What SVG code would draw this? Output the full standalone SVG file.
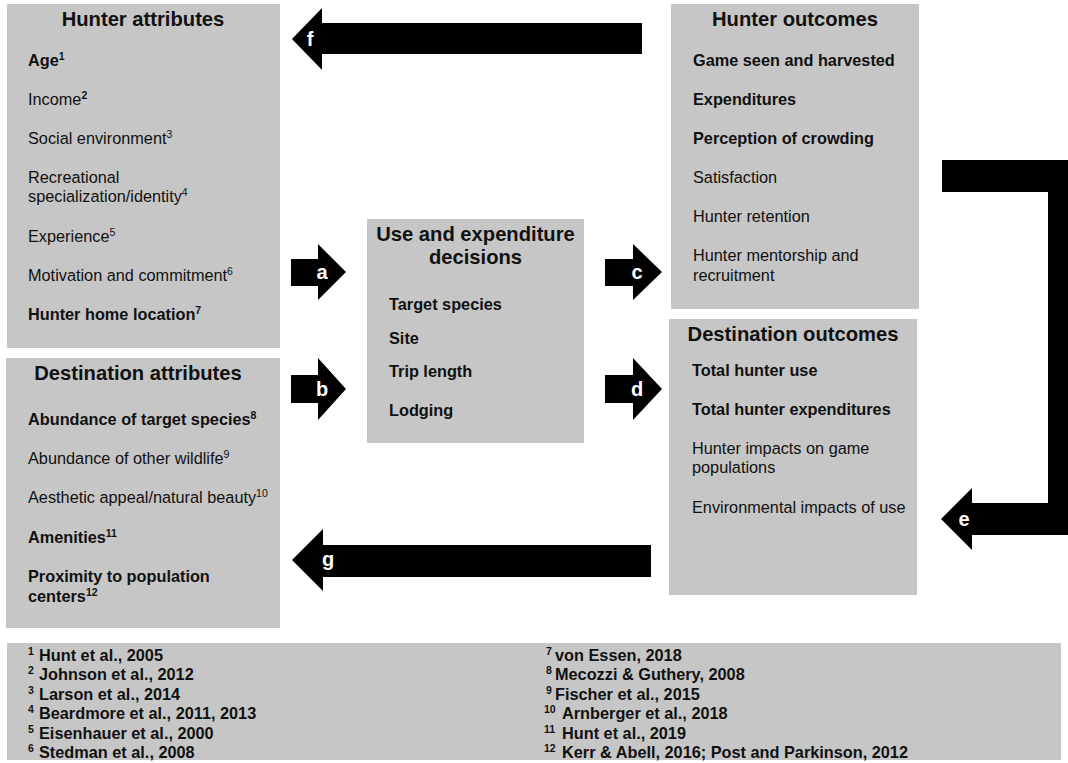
<svg xmlns="http://www.w3.org/2000/svg" width="1068" height="763" viewBox="0 0 1068 763">
<style>
.box{fill:#c6c6c6;}
text{font-family:"Liberation Sans",Arial,sans-serif;fill:#111;}
.h{font-size:20.2px;font-weight:bold;text-anchor:middle;}
.i{font-size:16.3px;}
.b{font-size:16.3px;font-weight:bold;}
.s{font-size:10.5px;}
.fn{font-size:16.3px;font-weight:bold;}
.arr{fill:#000;}
.lab{font-size:20px;font-weight:bold;fill:#fff;text-anchor:middle;}
</style>
<rect width="1068" height="763" fill="#fff"/>

<g id="hunter-attributes">
<rect class="box" x="7" y="4" width="273" height="344"/>
<text class="h" x="143" y="26">Hunter attributes</text>
<text class="b" x="28" y="66">Age<tspan class="s" dy="-6">1</tspan></text>
<text class="i" x="28" y="105">Income<tspan class="s" dy="-6" font-weight="bold">2</tspan></text>
<text class="i" x="28" y="144">Social environment<tspan class="s" dy="-6">3</tspan></text>
<text class="i" x="28" y="183">Recreational</text>
<text class="i" x="28" y="202">specialization/identity<tspan class="s" dy="-6">4</tspan></text>
<text class="i" x="28" y="242">Experience<tspan class="s" dy="-6">5</tspan></text>
<text class="i" x="28" y="281">Motivation and commitment<tspan class="s" dy="-6">6</tspan></text>
<text class="b" x="28" y="320">Hunter home location<tspan class="s" dy="-6">7</tspan></text>
</g>

<g id="destination-attributes">
<rect class="box" x="6" y="358" width="274" height="270"/>
<text class="h" x="138" y="380">Destination attributes</text>
<text class="b" x="28" y="425">Abundance of target species<tspan class="s" dy="-6">8</tspan></text>
<text class="i" x="28" y="464">Abundance of other wildlife<tspan class="s" dy="-6">9</tspan></text>
<text class="i" x="28" y="503">Aesthetic appeal/natural beauty<tspan class="s" dy="-6">10</tspan></text>
<text class="b" x="28" y="543">Amenities<tspan class="s" dy="-6">11</tspan></text>
<text class="b" x="28" y="582">Proximity to population</text>
<text class="b" x="28" y="602">centers<tspan class="s" dy="-6">12</tspan></text>
</g>

<g id="use-expenditure-decisions">
<rect class="box" x="367" y="219" width="217" height="224"/>
<text class="h" x="475.5" y="241">Use and expenditure</text>
<text class="h" x="475.5" y="264">decisions</text>
<text class="b" x="389" y="310">Target species</text>
<text class="b" x="389" y="344">Site</text>
<text class="b" x="389" y="377">Trip length</text>
<text class="b" x="389" y="416">Lodging</text>
</g>

<g id="hunter-outcomes">
<rect class="box" x="671" y="4" width="248" height="305"/>
<text class="h" x="795" y="26">Hunter outcomes</text>
<text class="b" x="693" y="66">Game seen and harvested</text>
<text class="b" x="693" y="105">Expenditures</text>
<text class="b" x="693" y="144">Perception of crowding</text>
<text class="i" x="693" y="183">Satisfaction</text>
<text class="i" x="693" y="222">Hunter retention</text>
<text class="i" x="693" y="261">Hunter mentorship and</text>
<text class="i" x="693" y="281">recruitment</text>
</g>

<g id="destination-outcomes">
<rect class="box" x="669" y="319" width="248" height="276"/>
<text class="h" x="793" y="341">Destination outcomes</text>
<text class="b" x="692" y="376">Total hunter use</text>
<text class="b" x="692" y="415">Total hunter expenditures</text>
<text class="i" x="692" y="454">Hunter impacts on game</text>
<text class="i" x="692" y="473">populations</text>
<text class="i" x="692" y="513">Environmental impacts of use</text>
</g>

<g id="references">
<rect class="box" x="7" y="643" width="1054" height="117"/>
<text class="fn" x="28" y="661"><tspan class="s" dy="-6">1</tspan><tspan x="39" dy="6">Hunt et al., 2005</tspan></text>
<text class="fn" x="28" y="680"><tspan class="s" dy="-6">2</tspan><tspan x="39" dy="6">Johnson et al., 2012</tspan></text>
<text class="fn" x="28" y="700"><tspan class="s" dy="-6">3</tspan><tspan x="39" dy="6">Larson et al., 2014</tspan></text>
<text class="fn" x="28" y="719"><tspan class="s" dy="-6">4</tspan><tspan x="39" dy="6">Beardmore et al., 2011, 2013</tspan></text>
<text class="fn" x="28" y="739"><tspan class="s" dy="-6">5</tspan><tspan x="39" dy="6">Eisenhauer et al., 2000</tspan></text>
<text class="fn" x="28" y="758"><tspan class="s" dy="-6">6</tspan><tspan x="39" dy="6">Stedman et al., 2008</tspan></text>
<text class="fn" x="546" y="661"><tspan class="s" dy="-6">7</tspan><tspan x="555" dy="6">von Essen, 2018</tspan></text>
<text class="fn" x="546" y="680"><tspan class="s" dy="-6">8</tspan><tspan x="555" dy="6">Mecozzi &amp; Guthery, 2008</tspan></text>
<text class="fn" x="546" y="700"><tspan class="s" dy="-6">9</tspan><tspan x="555" dy="6">Fischer et al., 2015</tspan></text>
<text class="fn" x="544" y="719"><tspan class="s" dy="-6">10</tspan><tspan x="562" dy="6">Arnberger et al., 2018</tspan></text>
<text class="fn" x="544" y="739"><tspan class="s" dy="-6">11</tspan><tspan x="562" dy="6">Hunt et al., 2019</tspan></text>
<text class="fn" x="544" y="758"><tspan class="s" dy="-6">12</tspan><tspan x="562" dy="6">Kerr &amp; Abell, 2016; Post and Parkinson, 2012</tspan></text>
</g>

<g id="connectors">
<path class="arr" d="M291,259 L318,259 L318,244 L346,272 L318,300 L318,286 L291,286 Z"/>
<text class="lab" x="322" y="279">a</text>
<path class="arr" d="M291,375 L318,375 L318,358 L346,389 L318,420 L318,403 L291,403 Z"/>
<text class="lab" x="322" y="396">b</text>
<path class="arr" d="M605,259 L633,259 L633,244 L662,272 L633,300 L633,286 L605,286 Z"/>
<text class="lab" x="637" y="279">c</text>
<path class="arr" d="M605,375 L633,375 L633,358 L662,389 L633,420 L633,403 L605,403 Z"/>
<text class="lab" x="637" y="396">d</text>
<path class="arr" d="M942,160 L1068,160 L1068,535 L972,535 L972,550 L941,519 L972,488 L972,503 L1048,503 L1048,192 L942,192 Z"/>
<text class="lab" x="964" y="526">e</text>
<path class="arr" d="M642,23 L322,23 L322,8 L292,39 L322,70 L322,54 L642,54 Z"/>
<text class="lab" x="310" y="46">f</text>
<path class="arr" d="M651,545 L323,545 L323,529 L292,560 L323,591 L323,577 L651,577 Z"/>
<text class="lab" x="328" y="566">g</text>
</g>
</svg>
